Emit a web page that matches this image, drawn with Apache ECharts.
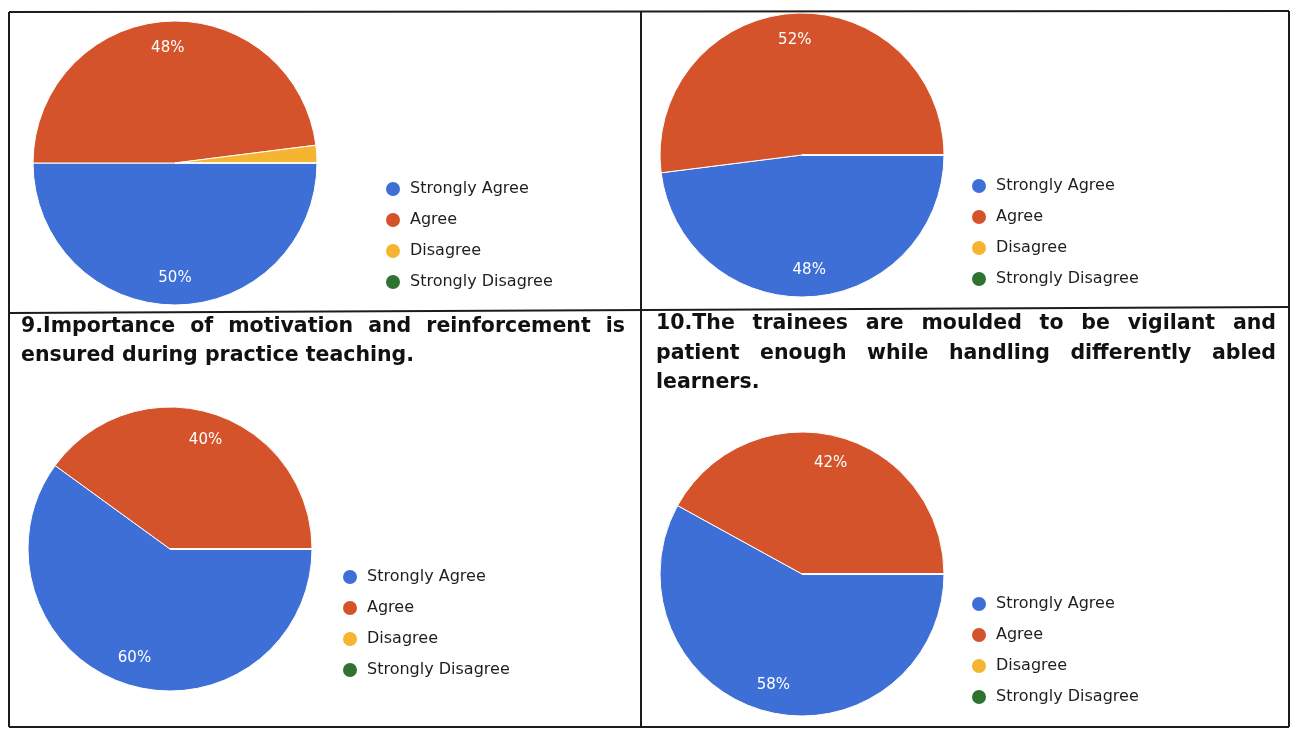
<!DOCTYPE html>
<html>
<head>
<meta charset="utf-8">
<script src="https://cdn.jsdelivr.net/npm/echarts@6/dist/echarts.min.js"></script>
<style>
  html, body { margin: 0; padding: 0; background: #ffffff; }
  #chart { width: 1296px; height: 729px; }
</style>
</head>
<body>
<div id="chart"></div>
<script>
// ---- Data ----
const categories = ['Strongly Agree', 'Agree', 'Disagree', 'Strongly Disagree'];
const topLeftValues = [50, 48, 2, 0];
const topRightValues = [48, 52, 0, 0];
const bottomLeftValues = [60, 40, 0, 0];
const bottomRightValues = [58, 42, 0, 0];
const bottomLeftTitleLines = ['9.Importance of motivation and reinforcement is', 'ensured during practice teaching.'];
const bottomRightTitleLines = ['10.The trainees are moulded to be vigilant and', 'patient enough while handling differently abled', 'learners.'];

// ---- Style ----
const sliceColors = ['#3d6fd6', '#d5532b', '#f6b530', '#2e7430'];
const FONT = '"DejaVu Sans", "Liberation Sans", Arial, sans-serif';
const R = 142, R_LABEL_INNER = 82;

const panels = [
  { values: topLeftValues, center: [175, 163], legend: { left: 384, top: 180 } },
  { values: topRightValues, center: [802, 155], legend: { left: 970, top: 177 } },
  { values: bottomLeftValues, center: [170, 549], legend: { left: 341, top: 568 } },
  { values: bottomRightValues, center: [802, 574], legend: { left: 970, top: 595 } }
];

const series = [];
const legends = [];
panels.forEach((p) => {
  const data = categories.map((name, i) => ({ name, value: p.values[i], itemStyle: { color: sliceColors[i] } }));
  series.push({
    type: 'pie', center: p.center, radius: R, startAngle: 0, clockwise: true,
    silent: true, animation: false,
    itemStyle: { borderColor: '#ffffff', borderWidth: 1 },
    label: { show: false }, labelLine: { show: false },
    emphasis: { disabled: true },
    data
  });
  series.push({
    type: 'pie', center: p.center, radius: [R_LABEL_INNER, R], startAngle: 0, clockwise: true,
    silent: true, animation: false,
    itemStyle: { color: 'rgba(0,0,0,0)', borderWidth: 0 },
    label: {
      show: true, position: 'inside', color: '#ffffff', fontSize: 15, fontFamily: FONT,
      formatter: (d) => (d.value >= 5 ? d.value + '%' : '')
    },
    labelLine: { show: false },
    emphasis: { disabled: true },
    data: categories.map((name, i) => ({ name, value: p.values[i] }))
  });
  legends.push({
    orient: 'vertical', left: p.legend.left, top: p.legend.top, padding: 0,
    icon: 'circle', itemWidth: 24, itemHeight: 16, itemGap: 13,
    selectedMode: false,
    textStyle: { fontSize: 16, fontFamily: FONT, color: '#1e1e1e', lineHeight: 16 },
    data: categories
  });
});

// ---- Titles (justified text) ----
const measureCtx = document.createElement('canvas').getContext('2d');
const TITLE_SIZE = 20.5;
measureCtx.font = 'bold ' + TITLE_SIZE + 'px ' + FONT;
function titleElements(lines, x0, x1, yStart, lineGap) {
  const els = [];
  lines.forEach((line, li) => {
    const words = line.split(' ');
    const widths = words.map((w) => measureCtx.measureText(w).width);
    const total = widths.reduce((a, b) => a + b, 0);
    const isLast = li === lines.length - 1;
    const gap = (!isLast && words.length > 1) ? (x1 - x0 - total) / (words.length - 1) : measureCtx.measureText(' ').width;
    let x = x0;
    const y = yStart + li * lineGap;
    words.forEach((w, wi) => {
      els.push({
        type: 'text', x: x, y: y, silent: true,
        style: {
          text: w, fill: '#111111', fontSize: TITLE_SIZE, fontWeight: 'bold', fontFamily: FONT,
          align: 'left', verticalAlign: 'middle', textAlign: 'left', textVerticalAlign: 'middle'
        }
      });
      x += widths[wi] + gap;
    });
  });
  return els;
}

const lineStyle = { stroke: '#1c1c1c', lineWidth: 2 };
const borders = [
  { x1: 9, y1: 12, x2: 1289, y2: 11 },
  { x1: 9, y1: 12, x2: 9, y2: 727 },
  { x1: 1289, y1: 11, x2: 1289, y2: 727 },
  { x1: 9, y1: 727, x2: 1289, y2: 727 },
  { x1: 641, y1: 12, x2: 641, y2: 727 },
  { x1: 9, y1: 313, x2: 1289, y2: 307 }
].map((s) => ({ type: 'line', silent: true, z: 100, shape: s, style: lineStyle }));

const graphic = borders
  .concat(titleElements(bottomLeftTitleLines, 21, 625, 327, 29))
  .concat(titleElements(bottomRightTitleLines, 656, 1276, 324, 29.5));

const chart = echarts.init(document.getElementById('chart'), null, { renderer: 'canvas' });
chart.setOption({
  backgroundColor: '#ffffff',
  animation: false,
  legend: legends,
  series: series,
  graphic: graphic
});
</script>
</body>
</html>
